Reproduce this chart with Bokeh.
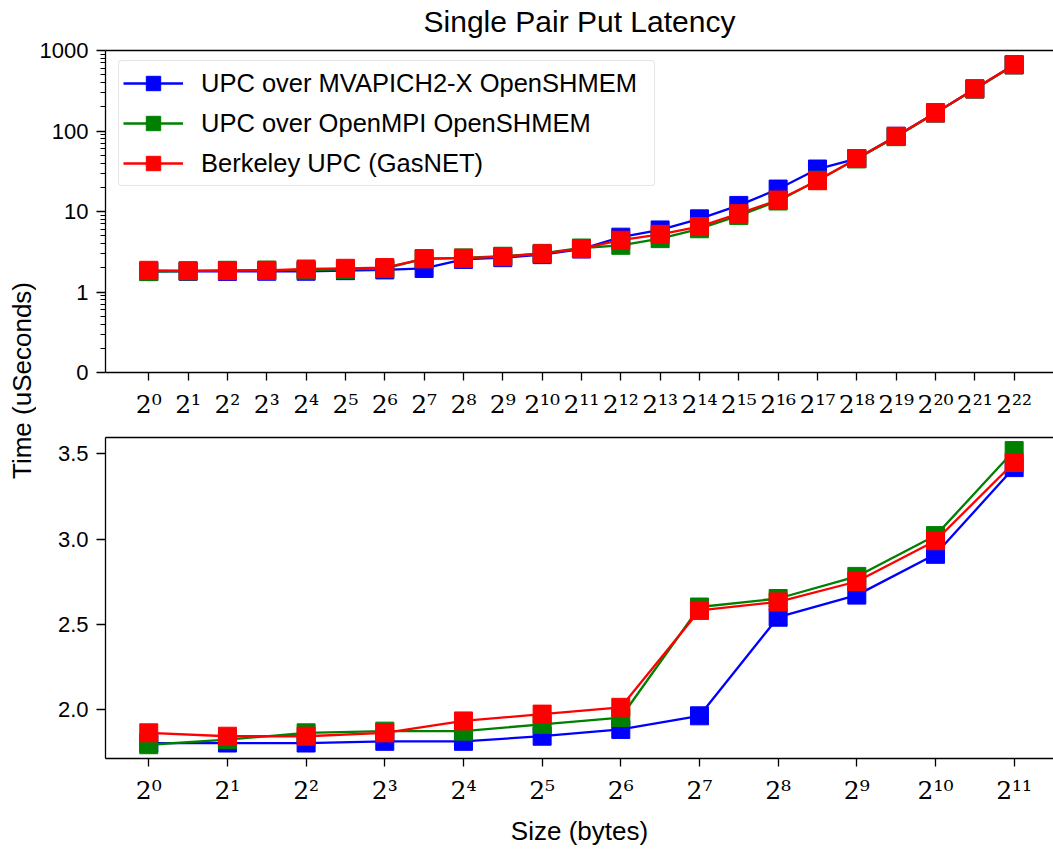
import math
from bokeh.plotting import figure
from bokeh.models import (Range1d, FixedTicker, LinearAxis, Legend, LegendItem,
                          Label, PrintfTickFormatter)
from bokeh.layouts import row, column
from bokeh.embed import file_html
from bokeh.resources import INLINE

# ---------------- data ----------------
size_exp = list(range(23))  # message size = 2**exp bytes
size_labels = ["2⁰", "2¹", "2²", "2³", "2⁴", "2⁵", "2⁶", "2⁷", "2⁸", "2⁹", "2¹⁰",
               "2¹¹", "2¹²", "2¹³", "2¹⁴", "2¹⁵", "2¹⁶", "2¹⁷", "2¹⁸", "2¹⁹", "2²⁰",
               "2²¹", "2²²"]

series_names = ["UPC over MVAPICH2-X OpenSHMEM",
                "UPC over OpenMPI OpenSHMEM",
                "Berkeley UPC (GasNET)"]
series_colors = ["#0000ff", "#008000", "#ff0000"]

mvapich = [1.80, 1.80, 1.80, 1.81, 1.81, 1.84, 1.88, 1.96, 2.54, 2.67, 2.91, 3.42,
           4.8, 5.9, 8.1, 11.9, 19.0, 33.7, 45.5, 86.0, 168.0, 333.0, 665.0]
openmpi = [1.79, 1.82, 1.86, 1.87, 1.87, 1.91, 1.95, 2.60, 2.65, 2.78, 3.02, 3.52,
           3.8, 4.6, 6.1, 8.9, 13.5, 24.5, 45.0, 85.0, 167.0, 332.0, 662.0]
berkeley = [1.86, 1.84, 1.84, 1.86, 1.93, 1.97, 2.01, 2.58, 2.63, 2.75, 2.99, 3.45,
            4.4, 5.2, 6.5, 9.4, 13.9, 24.1, 45.5, 86.0, 168.0, 334.0, 666.0]
series_values = [mvapich, openmpi, berkeley]

top_y_ticks = [0.1, 1, 10, 100, 1000]
top_y_labels = ["0", "1", "10", "100", "1000"]
bottom_y_ticks = [2.0, 2.5, 3.0, 3.5]
n_small = 12  # sizes 2^0 .. 2^11 in the zoomed panel

# ---------------- styling helpers ----------------
SANS = "Liberation Sans"
SERIF = "DejaVu Serif"
LABEL_W = 36
FIG_W = 1017
BORDER_L = 68


def style_common(p):
    p.outline_line_color = None
    p.grid.visible = False
    p.background_fill_color = "white"
    p.border_fill_color = "white"
    xa = p.below[0]
    ya = p.left[0]
    for ax in (xa, ya):
        ax.axis_line_color = "black"
        ax.axis_line_width = 1.3
        ax.major_tick_line_color = "black"
        ax.major_tick_line_width = 1.3
        ax.minor_tick_line_color = "black"
        ax.minor_tick_line_width = 1.0
        ax.major_tick_in = 0
        ax.minor_tick_in = 0
        ax.major_label_text_color = "black"
    xa.major_tick_out = 8
    xa.major_label_standoff = 9
    xa.major_label_text_font = SERIF
    xa.major_label_text_font_size = "25px"
    xa.minor_tick_line_color = None
    ya.major_tick_out = 9
    ya.minor_tick_out = 5
    ya.major_label_standoff = 8
    ya.major_label_text_font = SANS
    ya.major_label_text_font_size = "22px"
    top_line = LinearAxis(ticker=FixedTicker(ticks=[]), major_tick_out=0, major_tick_in=0,
                          minor_tick_out=0, minor_tick_in=0, major_label_standoff=0,
                          axis_line_color="black", axis_line_width=1.3)
    p.add_layout(top_line, "above")
    return xa, ya, top_line


# ---------------- top panel (full range, symlog-like) ----------------
top = figure(width=FIG_W, height=423, y_axis_type="log",
             x_range=Range1d(-1.1, 23.0), y_range=Range1d(0.1, 1000),
             output_backend="svg", toolbar_location=None,
             min_border_left=BORDER_L, min_border_right=0, min_border_top=50,
             min_border_bottom=51)
txa, tya, tline = style_common(top)
# chart title, centred over the frame
tline.axis_label = "Single Pair Put Latency"
tline.axis_label_text_font = SANS
tline.axis_label_text_font_size = "30px"
tline.axis_label_text_font_style = "normal"
tline.axis_label_text_color = "black"
tline.axis_label_standoff = 13

txa.ticker = FixedTicker(ticks=size_exp)
txa.major_label_overrides = {e: lab for e, lab in zip(size_exp, size_labels)}
minor = [m * 10.0 ** k for k in range(-1, 3) for m in range(2, 10)]
tya.ticker = FixedTicker(ticks=top_y_ticks, minor_ticks=minor)
tya.major_label_overrides = {t: lab for t, lab in zip(top_y_ticks, top_y_labels)}

items = []
for name, color, vals in zip(series_names, series_colors, series_values):
    l = top.line(size_exp, vals, line_color=color, line_width=2.3)
    s = top.scatter(size_exp, vals, marker="square", size=18, fill_color=color,
                    line_color=color, line_width=1)
    items.append(LegendItem(label=name, renderers=[l, s]))

legend = Legend(items=items, location=(13, 186), glyph_width=60, glyph_height=36,
                label_standoff=18, spacing=4, padding=4, label_width=449,
                label_text_font=SANS, label_text_font_size="25.5px",
                label_text_color="black",
                border_line_color="#cccccc", border_line_width=1.3,
                background_fill_color="white", background_fill_alpha=0.8,
                border_radius=4)
top.add_layout(legend)

# ---------------- bottom panel (small sizes, linear) ----------------
bot = figure(width=FIG_W, height=425,
             x_range=Range1d(-0.55, 11.50), y_range=Range1d(1.709, 3.597),
             output_backend="svg", toolbar_location=None,
             min_border_left=BORDER_L, min_border_right=0, min_border_top=14,
             min_border_bottom=90)
bxa, bya, _ = style_common(bot)
bxa.ticker = FixedTicker(ticks=size_exp[:n_small])
bxa.major_label_overrides = {e: lab for e, lab in zip(size_exp[:n_small], size_labels[:n_small])}
bya.ticker = FixedTicker(ticks=bottom_y_ticks)
bya.formatter = PrintfTickFormatter(format="%.1f")
bxa.axis_label = "Size (bytes)"
bxa.axis_label_text_font = SANS
bxa.axis_label_text_font_size = "26px"
bxa.axis_label_text_font_style = "normal"
bxa.axis_label_text_color = "black"
bxa.axis_label_standoff = 8

for color, vals in zip(series_colors, series_values):
    bot.line(size_exp[:n_small], vals[:n_small], line_color=color, line_width=2.3)
    bot.scatter(size_exp[:n_small], vals[:n_small], marker="square", size=18,
                fill_color=color, line_color=color, line_width=1)

# ---------------- shared y label ----------------
lab = figure(width=LABEL_W, height=848, x_axis_location=None, y_axis_location=None,
             x_range=Range1d(0, 1), y_range=Range1d(0, 1),
             output_backend="svg", toolbar_location=None, min_border=0)
lab.outline_line_color = None
lab.grid.visible = False
lab.add_layout(Label(x=21, y=468, x_units="screen", y_units="screen",
                     text="Time (uSeconds)", angle=math.pi / 2, text_align="center",
                     text_baseline="alphabetic", text_font=SANS, text_font_size="26px",
                     text_color="black"))

layout = row(lab, column(top, bot))

with open("out.html", "w") as f:
    f.write(file_html(layout, INLINE))
